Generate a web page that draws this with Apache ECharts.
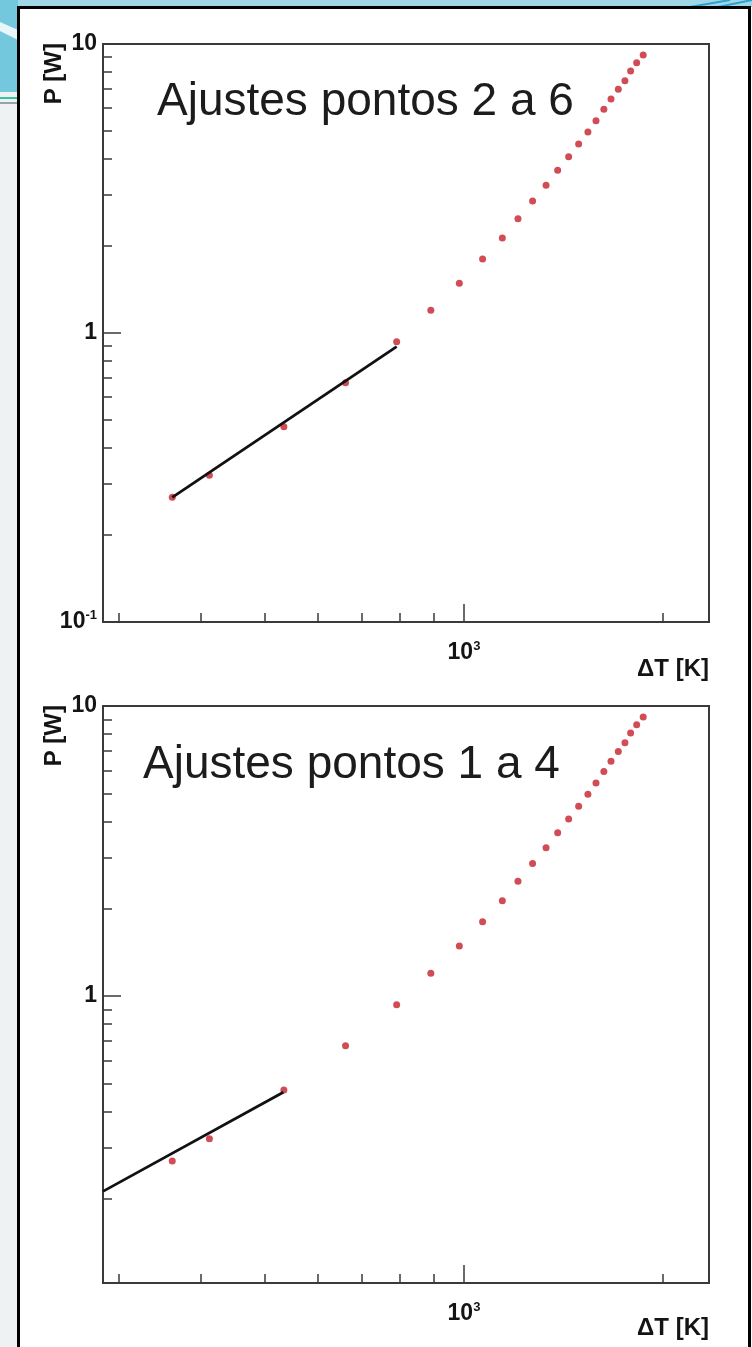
<!DOCTYPE html>
<html><head><meta charset="utf-8">
<script src="https://cdn.jsdelivr.net/npm/echarts@6/dist/echarts.min.js"></script>
<style>html,body{margin:0;padding:0;background:#fff}#c{width:752px;height:1347px}</style>
</head><body><div id="c"></div>
<script>
// ---- data ----
const deltaT = [362, 412, 534, 662, 791, 891, 984, 1067, 1143, 1207, 1270, 1331, 1386, 1440, 1491, 1540, 1584, 1628, 1669, 1712, 1752, 1787, 1825, 1867];
const power  = [0.270, 0.322, 0.474, 0.673, 0.933, 1.198, 1.486, 1.803, 2.132, 2.486, 2.862, 3.245, 3.656, 4.074, 4.508, 4.961, 5.428, 5.943, 6.451, 6.970, 7.465, 8.065, 8.610, 9.160];
const fitTop = [[362, 0.270], [791, 0.897]];      // fit, points 2 to 6
const fitBottom = [[284.4, 0.212], [533, 0.466]];  // fit, points 1 to 4
const titles = ['Ajustes pontos 2 a 6', 'Ajustes pontos 1 a 4'];
const xRange = [284.4, 2348];
const yRangeTop = [0.1, 10];
const yRangeBottom = [0.1024, 10];
const xMajorTicks = [1000];
const xMinorTicks = [300, 400, 500, 600, 700, 800, 900, 2000];
const yMajorTicks = [0.1, 1, 10];
const yMinorTicks = [0.2, 0.3, 0.4, 0.5, 0.6, 0.7, 0.8, 0.9, 2, 3, 4, 5, 6, 7, 8, 9];
const xTitle = 'ΔT [K]';
const yTitle = 'P [W]';

// ---- chart ----
const FONT = "'Liberation Sans', Arial, Helvetica, sans-serif";
const INK = '#141414';
const AX = '#3a3a3a';
const rich = {
  b: {fontFamily: FONT, fontSize: 23, fontWeight: 'bold', color: INK, lineHeight: 26},
  s: {fontFamily: FONT, fontSize: 13, fontWeight: 'bold', color: INK, lineHeight: 13, verticalAlign: 'top'}
};
function powLabel(v) {
  const e = Math.round(Math.log10(v));
  if (e === 0) return '{b|1}';
  if (e === 1) return '{b|10}';
  return '{b|10}{s|' + e + '}';
}
function xAxes(g) {
  return [{
    type: 'log', gridIndex: g, min: xRange[0], max: xRange[1], position: 'bottom',
    axisLine: {show: true, lineStyle: {color: AX, width: 2}},
    axisTick: {show: true, inside: true, length: 18, customValues: xMajorTicks, lineStyle: {color: AX, width: 1.5}},
    axisLabel: {show: true, customValues: xMajorTicks, margin: 18, formatter: powLabel, rich: rich},
    splitLine: {show: false}
  }, {
    type: 'log', gridIndex: g, min: xRange[0], max: xRange[1], position: 'bottom',
    axisLine: {show: false},
    axisTick: {show: true, inside: true, length: 9, customValues: xMinorTicks, lineStyle: {color: AX, width: 1.5}},
    axisLabel: {show: false}, splitLine: {show: false}
  }];
}
function yAxes(g, r) {
  return [{
    type: 'log', gridIndex: g, min: r[0], max: r[1], position: 'left',
    axisLine: {show: true, lineStyle: {color: AX, width: 2}},
    axisTick: {show: true, inside: true, length: 18, customValues: yMajorTicks, lineStyle: {color: AX, width: 1.5}},
    axisLabel: {show: true, customValues: yMajorTicks, margin: 6, formatter: powLabel, rich: rich},
    splitLine: {show: false}
  }, {
    type: 'log', gridIndex: g, min: r[0], max: r[1], position: 'left',
    axisLine: {show: false},
    axisTick: {show: true, inside: true, length: 9, customValues: yMinorTicks, lineStyle: {color: AX, width: 1.5}},
    axisLabel: {show: false}, splitLine: {show: false}
  }];
}
const points = deltaT.map((t, i) => [t, power[i]]);
function seriesFor(g, fit) {
  const xi = g * 2, yi = g * 2;
  return [{
    type: 'scatter', xAxisIndex: xi, yAxisIndex: yi, data: points, symbol: 'circle', symbolSize: 7,
    itemStyle: {color: '#c4202c'}, z: 2, clip: true
  }, {
    type: 'line', xAxisIndex: xi, yAxisIndex: yi, data: fit, showSymbol: false, symbol: 'none',
    lineStyle: {color: '#111', width: 2.8}, z: 3, clip: true, silent: true
  }];
}
const chart = echarts.init(document.getElementById('c'), null, {renderer: 'canvas'});
const gridStyle = {show: true, borderColor: AX, borderWidth: 2, backgroundColor: '#fff', containLabel: false, outerBoundsMode: 'none'};
chart.setOption({
  animation: false,
  backgroundColor: '#ffffff',
  grid: [
    Object.assign({left: 103, top: 44, width: 606, height: 578}, gridStyle),
    Object.assign({left: 103, top: 706, width: 606, height: 577}, gridStyle)
  ],
  xAxis: xAxes(0).concat(xAxes(1)),
  yAxis: yAxes(0, yRangeTop).concat(yAxes(1, yRangeBottom)),
  series: seriesFor(0, fitTop).concat(seriesFor(1, fitBottom)),
  graphic: [
    // slide decoration outside the chart frame
    {type: 'rect', shape: {x: 0, y: 0, width: 18, height: 1347}, style: {fill: '#eef2f3'}, z: 0, silent: true},
    {type: 'rect', shape: {x: 0, y: 0, width: 752, height: 7}, style: {fill: '#9fd7e7'}, z: 0, silent: true},
    {type: 'rect', shape: {x: 0, y: 0, width: 18, height: 92}, style: {fill: '#74c8de'}, z: 0, silent: true},
    {type: 'polygon', shape: {points: [[0, 22], [18, 30], [18, 40], [0, 31]]}, style: {fill: '#e9f6fa'}, z: 0, silent: true},
    {type: 'rect', shape: {x: 0, y: 97, width: 18, height: 2}, style: {fill: '#33c4a4'}, z: 0, silent: true},
    {type: 'rect', shape: {x: 0, y: 102, width: 18, height: 2}, style: {fill: '#9aa4a8'}, z: 0, silent: true},
    {type: 'line', shape: {x1: 690, y1: 7, x2: 730, y2: 0}, style: {stroke: '#2f9fcf', lineWidth: 2}, z: 0, silent: true},
    {type: 'line', shape: {x1: 718, y1: 7, x2: 752, y2: 0}, style: {stroke: '#2f9fcf', lineWidth: 2}, z: 0, silent: true},
    {type: 'rect', shape: {x: 18.5, y: 7.5, width: 731, height: 1345}, style: {fill: 'none', stroke: '#000', lineWidth: 3}, z: 100, silent: true},
    // panel titles
    {type: 'text', x: 157, y: 102, style: {text: titles[0], font: '46px ' + FONT, fill: '#1c1c1c', align: 'left', verticalAlign: 'middle'}, z: 50},
    {type: 'text', x: 143, y: 765, style: {text: titles[1], font: '46px ' + FONT, fill: '#1c1c1c', align: 'left', verticalAlign: 'middle'}, z: 50},
    // axis titles
    {type: 'text', x: 54, y: 43, rotation: Math.PI / 2, style: {text: yTitle, font: 'bold 24px ' + FONT, fill: INK, align: 'right', verticalAlign: 'middle'}, z: 50},
    {type: 'text', x: 54, y: 705, rotation: Math.PI / 2, style: {text: yTitle, font: 'bold 24px ' + FONT, fill: INK, align: 'right', verticalAlign: 'middle'}, z: 50},
    {type: 'text', x: 709, y: 669, style: {text: xTitle, font: 'bold 24px ' + FONT, fill: INK, align: 'right', verticalAlign: 'middle'}, z: 50},
    {type: 'text', x: 709, y: 1328, style: {text: xTitle, font: 'bold 24px ' + FONT, fill: INK, align: 'right', verticalAlign: 'middle'}, z: 50}
  ]
});
</script></body></html>
